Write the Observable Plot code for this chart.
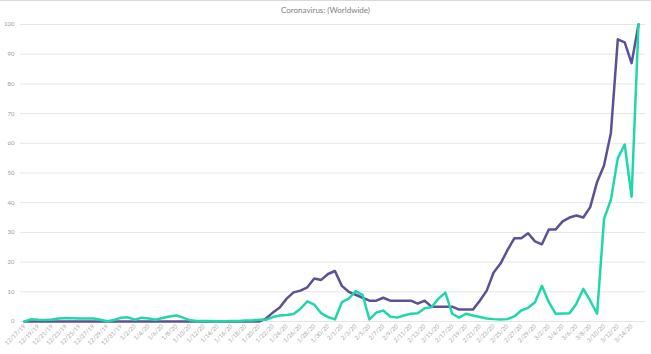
<!DOCTYPE html>
<html><head><meta charset="utf-8">
<script src="https://cdn.jsdelivr.net/npm/d3@7"></script>
<script src="https://cdn.jsdelivr.net/npm/@observablehq/plot@0.6"></script>
<style>
html,body{margin:0;padding:0;background:#fff;}
#wrap{position:relative;width:651px;height:354px;overflow:hidden;}
#title{position:absolute;top:5px;left:0;width:651px;text-align:center;font:8px Lato,sans-serif;color:#808080;}
#topline{position:absolute;top:0;left:0;width:651px;height:0;border-top:1px solid #dadada;}
svg{display:block;}
</style></head><body>
<div id="wrap"><div id="topline"></div><div id="title">Coronavirus: (Worldwide)</div></div>
<script>
const dates = [
"12/17/19","12/18/19","12/19/19","12/20/19","12/21/19","12/22/19","12/23/19","12/24/19","12/25/19","12/26/19","12/27/19","12/28/19","12/29/19","12/30/19","12/31/19",
"1/1/20","1/2/20","1/3/20","1/4/20","1/5/20","1/6/20","1/7/20","1/8/20","1/9/20","1/10/20","1/11/20","1/12/20","1/13/20","1/14/20","1/15/20","1/16/20","1/17/20","1/18/20","1/19/20","1/20/20","1/21/20","1/22/20","1/23/20","1/24/20","1/25/20","1/26/20","1/27/20","1/28/20","1/29/20","1/30/20","1/31/20",
"2/1/20","2/2/20","2/3/20","2/4/20","2/5/20","2/6/20","2/7/20","2/8/20","2/9/20","2/10/20","2/11/20","2/12/20","2/13/20","2/14/20","2/15/20","2/16/20","2/17/20","2/18/20","2/19/20","2/20/20","2/21/20","2/22/20","2/23/20","2/24/20","2/25/20","2/26/20","2/27/20","2/28/20","2/29/20",
"3/1/20","3/2/20","3/3/20","3/4/20","3/5/20","3/6/20","3/7/20","3/8/20","3/9/20","3/10/20","3/11/20","3/12/20","3/13/20","3/14/20","3/15/20"];

const purple = [
0,0,0,0,0,0,0,0,0,0,0,0,0,0,0,0,0,0,0,0,0,0,0,0,0,0,0,0,0,0,0,0,0,0,
0,1,3,4.7,7.7,9.8,10.4,11.5,14.5,14,16,17,
12,10,9,8,7,7,8,7,7,7,7,6,7,5,5,5,5,
4,4,4,7,10.4,16.5,19.5,24,28,28,29.7,27,
26,31,31,33.7,35,35.7,35,38.5,47,52.5,63.5,95,94,87,100];

const teal = [
0,0.8,0.6,0.5,0.7,1,1.2,1.1,1,1,1,0.6,0.1,0.5,1.3,1.4,0.6,1.3,1,0.6,1.2,1.7,2,1.3,0.4,0.2,0.2,0.2,0.1,0.1,0.2,0.2,0.3,0.3,
0.6,0.6,1.5,2,2.2,2.5,4.3,6.8,5.7,2.8,1.5,0.7,
6.5,7.7,10.2,9,0.7,3,3.7,1.7,1.3,2,2.6,2.8,4.5,4.8,7.7,9.7,2.6,
1.3,2.6,2,1.5,1,0.8,0.7,0.8,1.7,3.7,4.6,6.5,
12,6.5,2.6,2.7,2.8,6,11,7,2.6,34.5,41,55,59.6,42,100];

const tickLabels = [
"12/17/19","12/19/19","12/21/19","12/23/19","12/25/19","12/27/19","12/29/19","12/31/19",
"1/2/20","1/4/20","1/6/20","1/8/20","1/10/20","1/12/20","1/14/20","1/16/20","1/18/20","1/20/20","1/22/20","1/24/20","1/26/20","1/28/20","1/30/20",
"2/1/20","2/3/20","2/5/20","2/7/20","2/9/20","2/11/20","2/13/20","2/15/20","2/17/20","2/19/20","2/21/20","2/23/20","2/25/20","2/27/20","2/29/20",
"3/2/20","3/4/20","3/6/20","3/8/20","3/10/20","3/12/20","3/14/20"];

const yTicks = [0,10,20,30,40,50,60,70,80,90,100];

const purpleData = dates.map((d, i) => ({date: d, value: purple[i]}));
const tealData = dates.map((d, i) => ({date: d, value: teal[i]}));

const plot = Plot.plot({
  width: 651,
  height: 354,
  marginTop: 24,
  marginBottom: 33,
  marginLeft: 24,
  marginRight: 13,
  style: {fontFamily: "Lato, sans-serif", background: "#fff", overflow: "visible"},
  x: {type: "point", domain: dates, padding: 0},
  y: {domain: [0, 100]},
  marks: [
    Plot.ruleY(yTicks, {stroke: "#e6e6e6", strokeWidth: 1, insetLeft: -4, insetRight: -7}),
    Plot.axisY(yTicks, {tickSize: 0, tickPadding: 10, fontSize: 6, fill: "#9a9a9a", label: null}),
    Plot.axisX(tickLabels, {tickSize: 0, tickPadding: 4, tickRotate: -45, fontSize: 6, fill: "#a6a6a6", label: null}),
    Plot.line(purpleData, {x: "date", y: "value", stroke: "#5c5096", strokeWidth: 2.5, strokeLinejoin: "round"}),
    Plot.line(tealData, {x: "date", y: "value", stroke: "#1fd8aa", strokeWidth: 2.5, strokeLinejoin: "round"})
  ]
});
const wrap = document.getElementById("wrap");
wrap.insertBefore(plot, wrap.firstChild);
</script>
</body></html>
